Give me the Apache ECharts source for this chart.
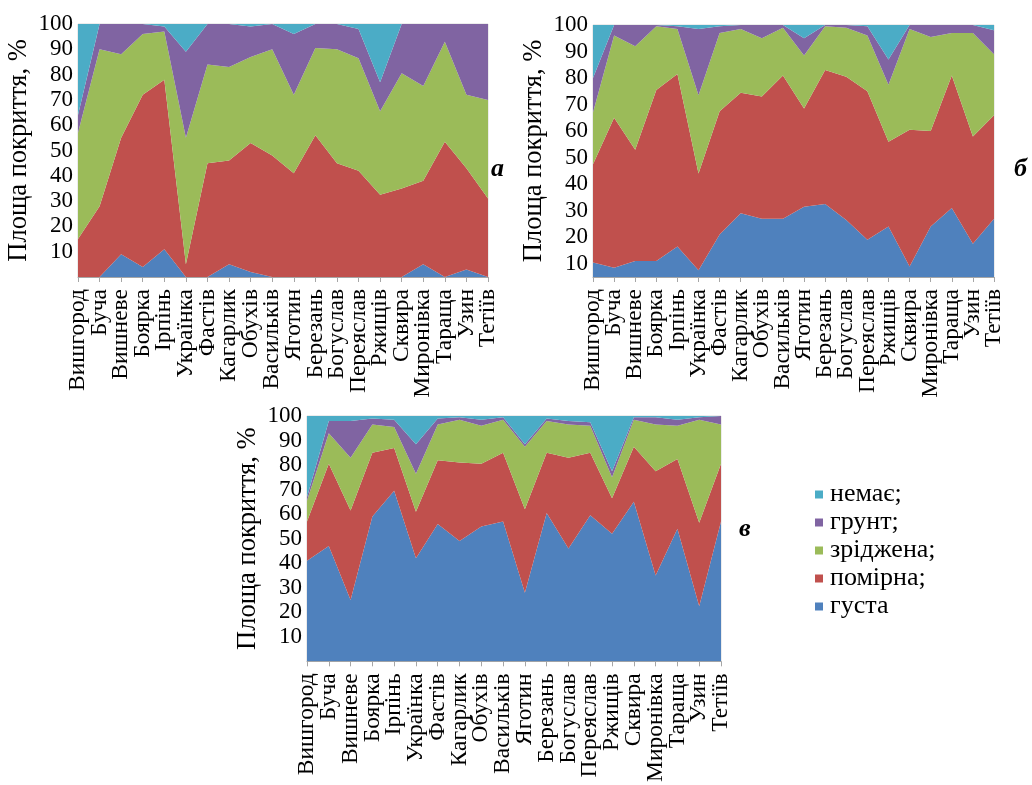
<!DOCTYPE html>
<html><head><meta charset="utf-8">
<script src="https://cdn.jsdelivr.net/npm/echarts@6/dist/echarts.min.js"></script>
<style>html,body{margin:0;padding:0;background:#fff}#c{width:1032px;height:785px}</style>
</head><body><div id="c"></div>
<script>
const categories = ['Вишгород','Буча','Вишневе','Боярка','Ірпінь','Українка','Фастів','Кагарлик','Обухів','Васильків','Яготин','Березань','Богуслав','Переяслав','Ржищів','Сквира','Миронівка','Тараща','Узин','Тетіїв'];
const seriesNames = ['густа','помірна;','зріджена;','грунт;','немає;'];
const legendOrder = ['немає;','грунт;','зріджена;','помірна;','густа'];
const yTitle = 'Площа покриття, %';
const panelLetters = ['а','б','в'];

// Panel а
const aGusta     = [0,0,9,4,11,0,0,5,2,0,0,0,0,0,0,0,5,0,3,0];
const aPomirna   = [15,28,46,68,67,5,45,41,51,48,41,56,45,42,32.5,35,33,53.5,40,31];
const aZridzhena = [42,62,33,24,19,50,39,37,34,42,31,34.5,45,44.5,33,45.5,37.5,39.5,29,39];
const aGrunt     = [7,10,12,4,2,34,16,17,12,10,24,9.5,10,11.5,11.5,19.5,24.5,7,28,30];
const aNemaie    = [36,0,0,0,1,11,0,0,1,0,4,0,0,2,23,0,0,0,0,0];

// Panel б
const bGusta     = [10.5,8.5,11,11,16.5,7.5,21,29,27,27,31.5,32.5,26.5,19,24,9,24,31,17.5,27];
const bPomirna   = [37,56.5,42,64.5,65,36.5,46.5,45.5,46,54,37,50.5,54,56,32,51.5,36,50,40.5,39];
const bZridzhena = [19.5,31,39,24,17,29.5,29.5,24,22,18,20,16.5,18.5,21,21.5,38,35.5,16,39,23];
const bGrunt     = [13,4,8,0.5,1,25,2.5,1.5,5,1,6.5,0.5,1,3.5,9.5,1.5,4.5,3,3,9];
const bNemaie    = [20,0,0,0,0.5,1.5,0.5,0,0,0,5,0,0,0.5,13,0,0,0,0,2];

// Panel в
const cGusta     = [41,47,25,59,69.5,42,56,49,55,57,28,60.5,46,59.5,52,65,35,54,22.5,57];
const cPomirna   = [16,33.5,36.5,26,17.5,19,26,32,25.5,28,34,24.5,37,25.5,14.5,22.5,42.5,28.5,34,23.5];
const cZridzhena = [8.5,12.5,21.5,11.5,8.5,15.5,14.5,17.5,15.5,13.5,25.5,13,13.5,11,8.5,11,19,13.5,42,16];
const cGrunt     = [1.5,5,15,2.5,3,12,2.5,1,2.5,1,1,1,1.5,1.5,2.5,1,3,2.5,1,3.5];
const cNemaie    = [33,2,2,1,1.5,11.5,1,0.5,1.5,0.5,11.5,1,2,2.5,22.5,0.5,0.5,1.5,0.5,0];

const yMins = [0, 5, 0];

const colors = ['#4f81bd','#c0504d','#9bbb59','#8064a2','#4bacc6'];
const panels = [
  [aGusta,aPomirna,aZridzhena,aGrunt,aNemaie],
  [bGusta,bPomirna,bZridzhena,bGrunt,bNemaie],
  [cGusta,cPomirna,cZridzhena,cGrunt,cNemaie]
];
const FONT = '"Liberation Serif","Times New Roman",serif';

const grids = [
  {left:78, top:24, width:410, height:253},
  {left:593, top:25, width:401, height:252},
  {left:307, top:416, width:414, height:251}
].map(g => Object.assign({show:true, borderColor:'#d9d9d9', borderWidth:1, backgroundColor:'transparent'}, g));

const xAxes = grids.map((g,i) => ({
  type:'category', gridIndex:i, data:categories, boundaryGap:false,
  axisLine:{show:true, lineStyle:{color:'#a6a6a6'}},
  axisTick:{show:true, alignWithLabel:true, length:5, lineStyle:{color:'#a6a6a6'}},
  axisLabel:{interval:0, rotate:90, margin:12, color:'#000', fontFamily:FONT, fontSize:23.5},
  splitLine:{show:false}
}));

const yAxes = grids.map((g,i) => ({
  type:'value', gridIndex:i, min:yMins[i], max:100, interval: i===1 ? 5 : 10,
  axisLine:{show:false}, axisTick:{show:false}, splitLine:{show:false},
  axisLabel:{color:'#000', fontFamily:FONT, fontSize:23, margin:5,
    formatter: v => (v % 10 === 0 && v > yMins[i]) ? String(v) : ''},
  name: yTitle, nameLocation:'middle', nameGap:45,
  nameTextStyle:{color:'#000', fontFamily:FONT, fontSize:26.5}
}));

const series = [];
panels.forEach((arrs,p) => {
  arrs.forEach((data,k) => {
    series.push({
      name: seriesNames[k], type:'line', stack:'s'+p, xAxisIndex:p, yAxisIndex:p,
      data: data, symbol:'none', lineStyle:{width:0}, itemStyle:{color:colors[k]},
      areaStyle:{color:colors[k], opacity:1}, silent:true
    });
  });
});

const letterPos = [[497,170],[1020,170],[745,530]];
const graphic = panelLetters.map((t,i) => ({
  type:'text', left:letterPos[i][0]-6, top:letterPos[i][1]-14,
  style:{text:t, font:'italic bold 26px "Liberation Serif", serif', fill:'#000'}
}));

const chart = echarts.init(document.getElementById('c'), null, {renderer:'canvas'});
chart.setOption({
  animation:false,
  grid: grids, xAxis: xAxes, yAxis: yAxes, series: series,
  legend:{
    data: legendOrder, orient:'vertical', left:810, top:476,
    icon:'rect', itemWidth:8, itemHeight:8, itemGap:1,
    textStyle:{color:'#000', fontFamily:FONT, fontSize:26, lineHeight:27, padding:[0,0,0,2]},
    selectedMode:false
  },
  graphic: graphic
});
</script></body></html>
